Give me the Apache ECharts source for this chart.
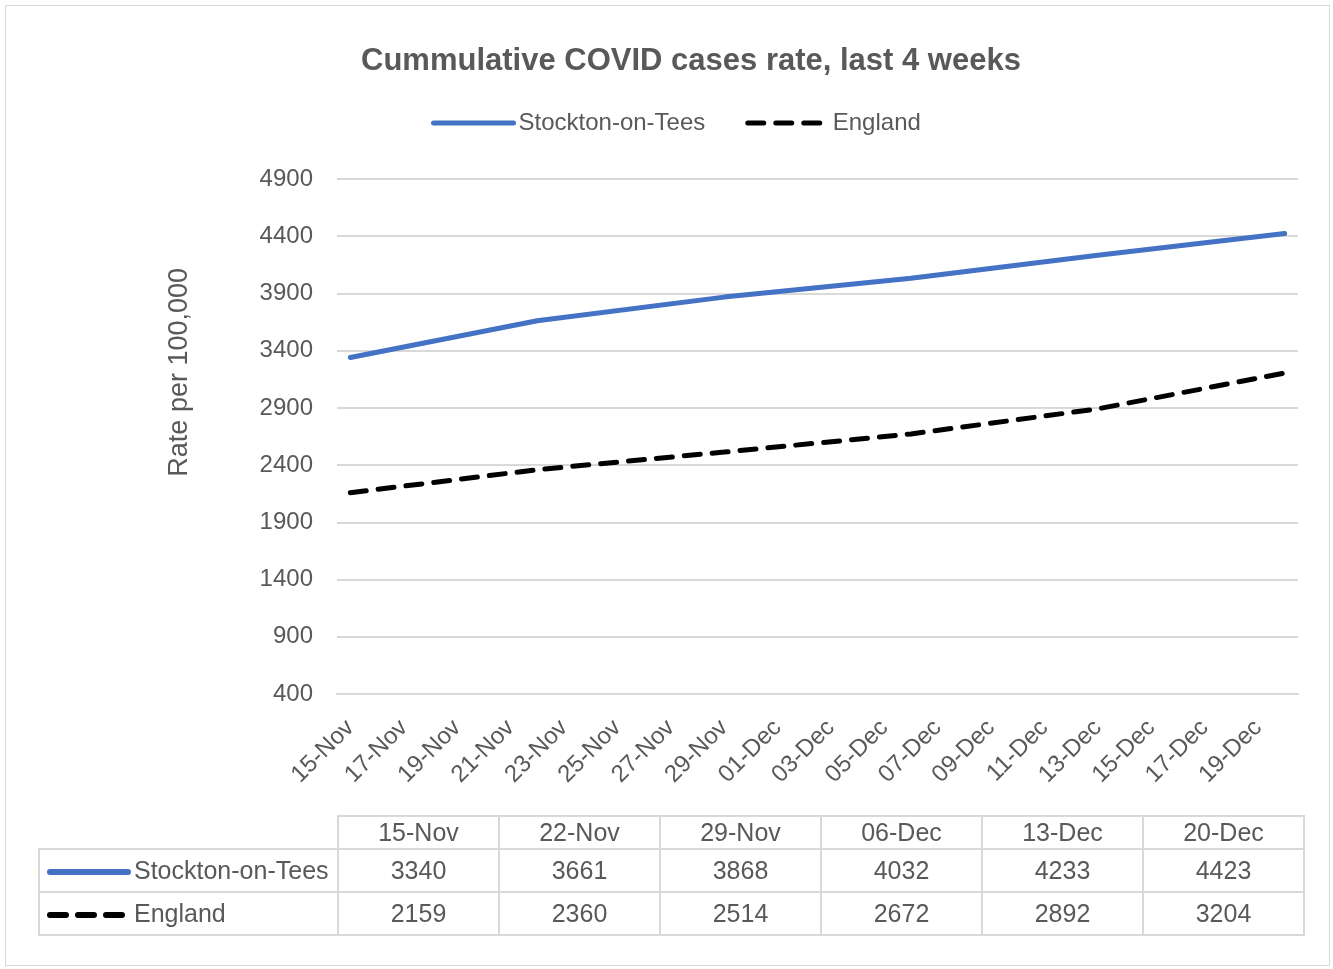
<!DOCTYPE html>
<html>
<head>
<meta charset="utf-8">
<script src="https://cdn.jsdelivr.net/npm/echarts@6/dist/echarts.min.js"></script>
<style>
  html, body { margin: 0; padding: 0; background: #fff; }
  #wrap { position: relative; width: 1333px; height: 969px; }
  #frame { position: absolute; left: 5px; top: 5px; width: 1323px; height: 959px; border: 1px solid #d9d9d9; }
  #main { position: absolute; left: 0; top: 0; width: 1333px; height: 969px; }
  #tbl { position: absolute; left: 38px; top: 815px; border-collapse: collapse;
         font-family: "Liberation Sans", "Noto Sans", sans-serif; font-size: 25px; color: #595959; }
  #tbl td { border: 2px solid #d9d9d9; text-align: center; padding: 0; }
  #tbl td.blank { border: none; border-bottom: 2px solid #d9d9d9; }
  #tbl td.name { text-align: left; padding-left: 6px; white-space: nowrap; }
  .key { display: inline-block; vertical-align: middle; margin-right: 2px; }
</style>
</head>
<body>
<div id="wrap">
  <div id="frame"></div>
  <div id="main"></div>
  <table id="tbl"></table>
</div>
<script>
// daily categories on the date axis
var days = ['15-Nov', '16-Nov', '17-Nov', '18-Nov', '19-Nov', '20-Nov', '21-Nov', '22-Nov', '23-Nov',
  '24-Nov', '25-Nov', '26-Nov', '27-Nov', '28-Nov', '29-Nov', '30-Nov', '01-Dec', '02-Dec', '03-Dec',
  '04-Dec', '05-Dec', '06-Dec', '07-Dec', '08-Dec', '09-Dec', '10-Dec', '11-Dec', '12-Dec', '13-Dec',
  '14-Dec', '15-Dec', '16-Dec', '17-Dec', '18-Dec', '19-Dec', '20-Dec'];
// weekly data points
var weeks = ['15-Nov', '22-Nov', '29-Nov', '06-Dec', '13-Dec', '20-Dec'];
var stockton = [3340, 3661, 3868, 4032, 4233, 4423];
var england = [2159, 2360, 2514, 2672, 2892, 3204];

var textColor = '#595959';
var font = '"Liberation Sans", "Noto Sans", sans-serif';

function toDaily(vals) {
  return days.map(function (d) {
    var i = weeks.indexOf(d);
    return i >= 0 ? vals[i] : null;
  });
}

var chart = echarts.init(document.getElementById('main'));

var option = {
  animation: false,
  title: {
    text: 'Cummulative COVID cases rate, last 4 weeks',
    left: 356,
    top: 41,
    textStyle: { color: textColor, fontSize: 31, fontWeight: 'bold', fontFamily: font }
  },
  legend: {
    top: 106,
    left: 426,
    itemWidth: 80,
    itemHeight: 14,
    itemGap: 40,
    itemStyle: { opacity: 0 },
    lineStyle: { width: 5, cap: 'round' },
    textStyle: { color: textColor, fontSize: 24, fontFamily: font },
    data: ['Stockton-on-Tees', 'England']
  },
  grid: { left: 337, right: 35, top: 179, bottom: 275 },
  graphic: [{
    type: 'text',
    left: 166,
    top: 268,
    rotation: Math.PI / 2,
    style: { text: 'Rate per 100,000', fill: textColor, font: '27px ' + font }
  }],
  xAxis: {
    type: 'category',
    data: days,
    boundaryGap: true,
    axisLine: { show: true, lineStyle: { color: '#d9d9d9', width: 2 } },
    axisTick: { show: false },
    axisLabel: { interval: 1, rotate: 45, color: textColor, fontSize: 24, fontFamily: font, margin: 30 }
  },
  yAxis: {
    type: 'value',
    min: 400,
    max: 4900,
    interval: 500,
    axisLine: { show: false },
    axisTick: { show: false },
    axisLabel: {
      color: textColor, fontSize: 24, fontFamily: font, margin: 24,
      formatter: function (v) { return String(v); }
    },
    splitLine: { lineStyle: { color: '#d9d9d9', width: 2 } }
  },
  series: [{
    name: 'Stockton-on-Tees',
    type: 'line',
    data: toDaily(stockton),
    connectNulls: true,
    symbol: 'none',
    lineStyle: { color: '#4472C4', width: 5, cap: 'round' },
    itemStyle: { color: '#4472C4' }
  }, {
    name: 'England',
    type: 'line',
    data: toDaily(england),
    connectNulls: true,
    symbol: 'none',
    lineStyle: { color: '#000', width: 5, type: [16, 12], cap: 'round' },
    itemStyle: { color: '#000' }
  }]
};

chart.setOption(option);

// data table below the chart
var blueKey = '<svg class="key" width="86" height="8"><line x1="4" y1="4" x2="82" y2="4" stroke="#4472C4" stroke-width="6" stroke-linecap="round"/></svg>';
var dashKey = '<svg class="key" width="86" height="8"><line x1="4" y1="4" x2="82" y2="4" stroke="#000" stroke-width="6" stroke-linecap="round" stroke-dasharray="16 12"/></svg>';
var html = '<tr style="height:33px"><td class="blank" style="width:298px"></td>';
weeks.forEach(function (w) { html += '<td style="width:159px">' + w + '</td>'; });
html += '</tr><tr style="height:43px"><td class="name">' + blueKey + 'Stockton-on-Tees</td>';
stockton.forEach(function (v) { html += '<td>' + v + '</td>'; });
html += '</tr><tr style="height:43px"><td class="name">' + dashKey + 'England</td>';
england.forEach(function (v) { html += '<td>' + v + '</td>'; });
html += '</tr>';
document.getElementById('tbl').innerHTML = html;
</script>
</body>
</html>
